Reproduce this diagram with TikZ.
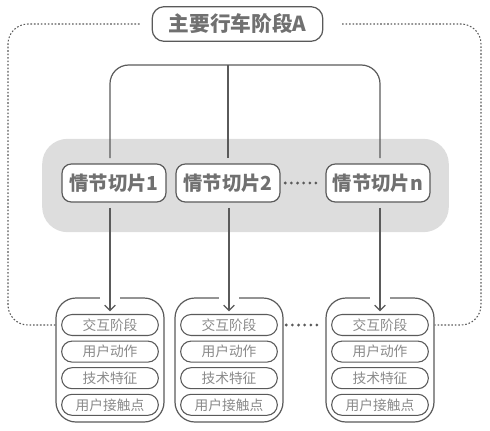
\documentclass[tikz,border=0pt]{standalone}
\usepackage{fontspec}
\setmainfont{Noto Sans CJK SC}
\usetikzlibrary{positioning,calc,arrows.meta}
\definecolor{linegray}{HTML}{5A5A5A}
\definecolor{textgray}{HTML}{707070}
\definecolor{itemgray}{HTML}{8A8A8A}
\definecolor{bandgray}{HTML}{DDDDDD}
\begin{document}
\begin{tikzpicture}[x=0.75pt, y=-0.75pt,
    stagebox/.style={draw=linegray, line width=0.9pt, fill=white, rounded corners=9pt,
      minimum width=128pt, minimum height=26pt, inner sep=0pt,
      text=textgray, font=\fontsize{15.5}{18}\selectfont\bfseries},
    slicebox/.style={draw=linegray, line width=0.9pt, fill=white, rounded corners=7pt,
      minimum width=78pt, minimum height=28.5pt, inner sep=0pt,
      text=textgray, font=\fontsize{14.5}{17}\selectfont\bfseries},
    band/.style={fill=bandgray, rounded corners=19pt, minimum width=305pt, minimum height=70pt},
    card/.style={draw=linegray, line width=0.9pt, fill=white, rounded corners=15pt,
      minimum width=81pt, minimum height=93pt},
    item/.style={draw=linegray, line width=0.8pt, rounded corners=7.8pt,
      minimum width=72.5pt, minimum height=15.75pt, inner sep=0pt,
      text=itemgray, font=\fontsize{10.3}{12}\selectfont},
    link/.style={draw=linegray, line width=0.9pt},
    frame/.style={draw=linegray, line width=0.8pt, dash pattern=on 1.2pt off 1.4pt, rounded corners=15pt},
    dots/.style={draw=linegray, line width=2.3pt, line cap=round, dash pattern=on 0pt off 4.6pt}]
    \useasboundingbox (0,0) rectangle (490,430);

    % Define nodes
    \node[band] (band) at (245.5,185.5) {};
    \node[stagebox] (stage) at (237.5,24) {主要行车阶段A};
    \node[slicebox] (slice1) at (114,183) {情节切片1};
    \node[slicebox] (slice2) at (228,183) {情节切片2};
    \node[slicebox] (slicen) at (378,183) {情节切片n};
    \coordinate (hub) at (228,65);
    \coordinate (fl) at (8,24);
    \coordinate (fr) at (481,24);

    \foreach \i/\x in {1/110, 2/229, 3/380} {
        \node[card] (box\i) at (\x,360) {};
        \node[item] (item-\i-1) at (\x,325) {交互阶段};
        \node[item, below=3.4pt of item-\i-1] (item-\i-2) {用户动作};
        \node[item, below=3.4pt of item-\i-2] (item-\i-3) {技术特征};
        \node[item, below=3.4pt of item-\i-3] (item-\i-4) {用户接触点};
        \fill[white] ($(box\i.north)+(-10,-3)$) rectangle +(20,6);
    }

    % Define connections
    \draw[link, rounded corners=14pt, shorten <=4pt, shorten >=4pt]
        (slice1.north -| box1.north) |- (hub) -| (slicen.north -| box3.north);
    \draw[link, shorten >=4pt] (hub) -- (slice2.north);
    \draw[link, -{Straight Barb[length=4pt,width=8pt]}, shorten <=4pt, shorten >=2pt]
        (slice1.south -| box1.north) -- (box1.north |- item-1-1.north);
    \draw[link, -{Straight Barb[length=4pt,width=8pt]}, shorten <=4pt, shorten >=2pt]
        (slice2.south -| box2.north) -- (box2.north |- item-2-1.north);
    \draw[link, -{Straight Barb[length=4pt,width=8pt]}, shorten <=4pt, shorten >=2pt]
        (slicen.south -| box3.north) -- (box3.north |- item-3-1.north);
    \draw[dots, shorten <=3.5pt, shorten >=6pt] (slice2.east) -- (slicen.west);
    \draw[dots, shorten <=2pt, shorten >=6pt] (item-2-1 -| box2.east) -- (item-3-1 -| box3.west);
    \draw[frame, shorten >=9pt] (item-1-1 -| box1.west) -| (fl) -- (stage.west);
    \draw[frame, shorten <=14pt] (stage.east) -- (fr) |- (item-3-1 -| box3.east);
\end{tikzpicture}
\end{document}
